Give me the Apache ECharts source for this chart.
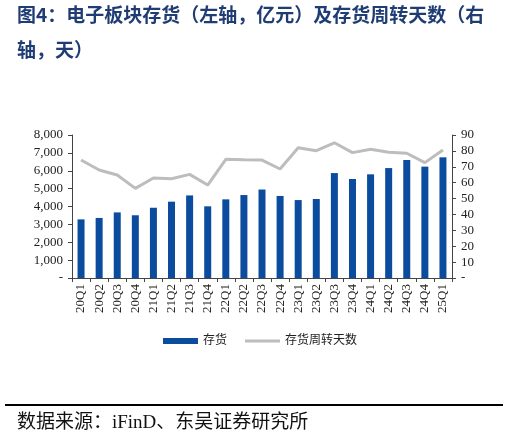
<!DOCTYPE html>
<html><head><meta charset="utf-8">
<script src="https://cdn.jsdelivr.net/npm/echarts@6/dist/echarts.min.js"></script>
<style>html,body{margin:0;padding:0;background:#fff}#c{width:509px;height:439px}</style>
</head><body><div id="c"></div>
<script>
const categories = ['20Q1','20Q2','20Q3','20Q4','21Q1','21Q2','21Q3','21Q4','22Q1','22Q2','22Q3','22Q4','23Q1','23Q2','23Q3','23Q4','24Q1','24Q2','24Q3','24Q4','25Q1'];
const inventory = [3280,3360,3670,3510,3930,4270,4620,4010,4400,4640,4950,4590,4360,4420,5870,5540,5800,6150,6600,6230,6750];
const turnoverDays = [74.3,68,64.8,56.4,62.9,62.5,65.2,58.5,74.7,74.4,74.2,68.6,82,80.1,85.1,78.9,81,79.1,78.5,72.6,80.6];
const leftTicks = {min:0,max:8000,interval:1000};
const rightTicks = {min:0,max:90,interval:10};
const titleLines = ['图4：电子板块存货（左轴，亿元）及存货周转天数（右','轴，天）'];
const sourceText = '数据来源：iFinD、东吴证券研究所';

const serif = '"Liberation Serif","Times New Roman",serif';
const chart = echarts.init(document.getElementById('c'));
const fmt = v => v === 0 ? '-' : v.toLocaleString('en-US');
const legendText = {fontFamily:'"Liberation Serif","Noto Sans CJK SC",serif',fontSize:12,color:'#222'};
chart.setOption({
  animation:false,
  legend:[{
    left:158, top:330, itemWidth:35, itemHeight:6, textStyle:legendText,
    data:[{name:'存货',icon:'rect'}]
  },{
    left:240, top:330, itemWidth:35, itemHeight:3, textStyle:legendText,
    data:[{name:'存货周转天数',icon:'rect'}]
  }],
  grid:{left:72,right:57,top:135,bottom:161},
  xAxis:{
    type:'category', data:categories, boundaryGap:true,
    axisLine:{lineStyle:{color:'#444'}},
    axisTick:{show:true,length:4,lineStyle:{color:'#444'}},
    axisLabel:{rotate:90,fontFamily:serif,fontSize:13,color:'#222',margin:6}
  },
  yAxis:[{
    type:'value', min:leftTicks.min, max:leftTicks.max, interval:leftTicks.interval,
    splitLine:{show:false},
    axisLine:{show:true,lineStyle:{color:'#444'}},
    axisTick:{show:true,length:4,lineStyle:{color:'#444'}},
    axisLabel:{formatter:fmt,fontFamily:serif,fontSize:13,color:'#222',margin:9}
  },{
    type:'value', min:rightTicks.min, max:rightTicks.max, interval:rightTicks.interval,
    splitLine:{show:false},
    axisLine:{show:true,lineStyle:{color:'#444'}},
    axisTick:{show:true,length:4,lineStyle:{color:'#444'}},
    axisLabel:{formatter:v=>v===0?'-':String(v),fontFamily:serif,fontSize:13,color:'#222',margin:9}
  }],
  series:[{
    name:'存货', type:'bar', data:inventory, barWidth:7, yAxisIndex:0,
    itemStyle:{color:'#0C4C9E'}
  },{
    name:'存货周转天数', type:'line', data:turnoverDays, yAxisIndex:1,
    symbol:'none', lineStyle:{color:'#BDBDBD',width:3}, itemStyle:{color:'#BDBDBD'}
  }],
  graphic:[
    {type:'text',x:17,y:15,style:{text:titleLines[0],font:'bold 19px "Noto Sans CJK SC",sans-serif',fill:'#1F3D74',textVerticalAlign:'middle'}},
    {type:'text',x:17,y:50,style:{text:titleLines[1],font:'bold 19px "Noto Sans CJK SC",sans-serif',fill:'#1F3D74',textVerticalAlign:'middle'}},
    {type:'line',shape:{x1:5,y1:405,x2:503,y2:405},style:{stroke:'#000',lineWidth:2}},
    {type:'text',x:17,y:423,style:{text:sourceText,font:'19px "Liberation Serif","Noto Sans CJK SC",serif',fill:'#111',textVerticalAlign:'middle'}}
  ]
});
</script></body></html>
